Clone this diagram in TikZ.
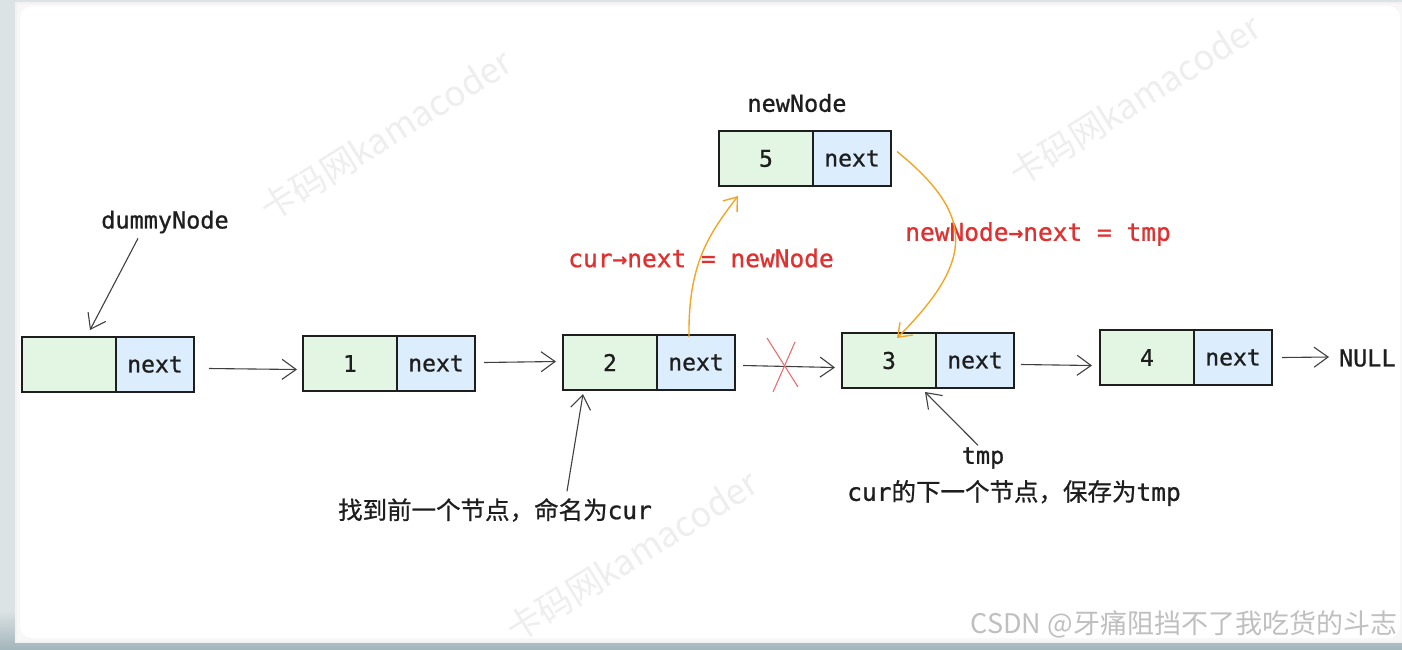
\documentclass[tikz,border=0pt]{standalone}
\usepackage{fontspec}
\setmonofont{DejaVu Sans Mono}
\newfontfamily\monob[FakeBold=0.9]{DejaVu Sans Mono}
\newfontfamily\cjk{Noto Sans CJK SC}
\newfontfamily\cjkb[FakeBold=0.7]{Noto Sans CJK SC}
\usetikzlibrary{arrows.meta,calc}
\definecolor{ink}{HTML}{1E1E1E}
\definecolor{gfill}{HTML}{E3F6E3}
\definecolor{bfill}{HTML}{DCEDFD}
\definecolor{xred}{HTML}{E03131}
\definecolor{xorange}{HTML}{F5A524}
\definecolor{bgout}{HTML}{DCE3E5}
\definecolor{bgbot}{HTML}{A3B6BC}
\begin{document}
\begin{tikzpicture}[x=1pt,y=-1pt,
  every node/.style={inner sep=0pt, outer sep=0pt},
  gbox/.style={draw=ink, line width=1.1pt, fill=gfill, minimum width=94pt, minimum height=55pt,
    font=\monob\fontsize{23}{23}\selectfont, text=ink},
  bbox/.style={draw=ink, line width=1.1pt, fill=bfill, minimum width=78pt, minimum height=55pt,
    font=\monob\fontsize{23}{23}\selectfont, text=ink},
  lbl/.style={font=\monob\fontsize{23.5}{25}\selectfont, text=ink},
  redlbl/.style={font=\monob\fontsize{24.5}{26}\selectfont, text=xred},
  cnlbl/.style={font=\fontsize{24.5}{26}\selectfont, text=ink},
  arr/.style={draw=ink!85, line width=1.1pt, -{Straight Barb[length=14pt,width=20pt,line width=1.1pt]}},
  oarr/.style={draw=xorange, line width=1.4pt, -{Straight Barb[length=12pt,width=18pt,line width=1.4pt]}},
  wm/.style={font=\cjk\fontsize{35}{35}\selectfont, text=gray!13, rotate=32},
]
\useasboundingbox (0,0) rectangle (1402,649);
% background and card
\fill[bgout] (0,0) rectangle (1402,649);
\shade[top color=bgout, bottom color=bgbot] (0,610) rectangle (1402,649);
\fill[black!5] (15,2) rectangle (1402,643);
\fill[black!3] (17,4) rectangle (1402,641);
\fill[white, rounded corners=12pt] (20,6) rectangle (1400,638);
% watermarks
\node[wm] (wm1) at (386,135) {卡码网kamacoder};
\node[wm] (wm2) at (1135,100) {卡码网kamacoder};
\node[wm] (wm3) at (632,556) {卡码网kamacoder};
\node[font=\cjk\fontsize{27}{27}\selectfont, text=gray!50, anchor=east] (csdn) at (1397,624) {CSDN @牙痛阻挡不了我吃货的斗志};
% list nodes
\node[gbox, anchor=north west] (d0) at (22,337) {};
\node[bbox, anchor=west] (d0n) at (d0.east) {next};
\node[gbox, anchor=north west] (n1) at (303,336) {1};
\node[bbox, anchor=west] (n1n) at (n1.east) {next};
\node[gbox, anchor=north west] (n2) at (563,335) {2};
\node[bbox, anchor=west] (n2n) at (n2.east) {next};
\node[gbox, anchor=north west] (n3) at (842,333) {3};
\node[bbox, anchor=west] (n3n) at (n3.east) {next};
\node[gbox, anchor=north west] (n4) at (1100,330) {4};
\node[bbox, anchor=west] (n4n) at (n4.east) {next};
\node[gbox, anchor=north west] (n5) at (719,131) {5};
\node[bbox, anchor=west] (n5n) at (n5.east) {next};
\node[lbl, anchor=west] (null) at (1339,358) {NULL};
% labels
\node[lbl] (lnew) at (797,103) {newNode};
\node[lbl] (ldummy) at (165,222) {dummyNode};
\node[redlbl] (rl1) at (701,258) {cur→next = newNode};
\node[redlbl] (rl2) at (1038,234) {newNode→next = tmp};
\node[lbl] (ltmp) at (983,458) {tmp};
\node[cnlbl] (tmpdesc) at (1014,493) {\monob cur\cjkb 的下一个节点，保存为\monob tmp};
\node[cnlbl] (curdesc) at (495,510) {\cjkb 找到前一个节点，命名为\monob cur};
% list arrows
\draw[arr] ($(d0n.east)+(15,4)$) -- ($(n1.west)+(-6,6)$);
\draw[arr] ($(n1n.east)+(9,-1)$) -- ($(n2.west)+(-7,-1)$);
\draw[arr] ($(n2n.east)+(8,3)$) -- ($(n3.west)+(-7,7)$);
\draw[arr] ($(n3n.east)+(7,4)$) -- ($(n4.west)+(-8,8)$);
\draw[arr] ($(n4n.east)+(10,0)$) -- ($(null.west)+(-10,-1)$);
% red cross
\draw[xred!70, line width=1.1pt] (767,338) -- (798,387);
\draw[xred!70, line width=1.1pt] (795,342) -- (773,392);
% pointer arrows
\draw[arr] ($(ldummy.south)+(-27,5)$) -- ($(d0.north)+(21,-7)$);
\draw[arr] ($(curdesc.north)+(72,-7)$) -- ($(n2.south)+(-27,4)$);
\draw[arr] ($(ltmp.north)+(-5,-2)$) -- ($(n3.south)+(36,4)$);
% orange arrows
\draw[oarr] ($(n2n.north)+(-7,2)$) .. controls (688,265) and (708,235) .. ($(n5.south west)+(19,10)$);
\draw[oarr] ($(n5n.east)+(6,-7)$) .. controls (975,215) and (975,260) .. ($(n3.north)+(8,5)$);
\end{tikzpicture}
\end{document}
